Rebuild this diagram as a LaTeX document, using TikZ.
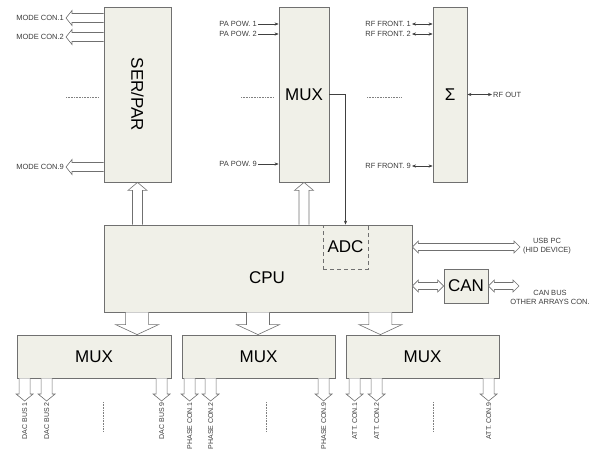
\documentclass[tikz,border=0pt]{standalone}
\usepackage{fontspec}
\setmainfont{Liberation Sans}
\usetikzlibrary{arrows.meta,positioning,calc}
\definecolor{boxfill}{RGB}{240,240,232}
\definecolor{edge}{RGB}{112,112,112}
\definecolor{labgray}{RGB}{60,60,60}
\tikzset{
  blk/.style={draw=edge, fill=boxfill, line width=0.8pt, inner sep=0pt, font=\fontsize{17}{17}\selectfont},
  adcbox/.style={draw=edge, dash pattern=on 4pt off 3pt, line width=0.8pt, inner sep=0pt, font=\fontsize{17}{17}\selectfont},
  lbl/.style={font=\fontsize{7.5}{9}\selectfont, text=labgray, inner sep=1pt},
  wire/.style={draw=black!75, line width=0.5pt, -{Stealth[length=4pt,width=3.2pt]}},
  wire2/.style={wire, {Stealth[length=4pt,width=3.2pt]}-{Stealth[length=4pt,width=3.2pt]}},
  % hollow block arrow: half shaft / half head / head length
  hollow/.style args={#1/#2/#3}{draw=edge, fill=white, line width=0.6pt, line join=miter, to path={
    ($(\tikztotarget)!#3!(\tikztostart)$) coordinate (hb)
    ($(\tikztostart)!#1!90:(\tikztotarget)$)
    -- ($(hb)!#1!-90:(\tikztostart)$) -- ($(hb)!#2!-90:(\tikztostart)$)
    -- (\tikztotarget)
    -- ($(hb)!#2!90:(\tikztostart)$) -- ($(hb)!#1!90:(\tikztostart)$)
    -- ($(\tikztostart)!#1!-90:(\tikztotarget)$)}},
  hollow2/.style args={#1/#2/#3}{draw=edge, fill=white, line width=0.6pt, line join=miter, to path={
    ($(\tikztostart)!#3!(\tikztotarget)$) coordinate (ha)
    ($(\tikztotarget)!#3!(\tikztostart)$) coordinate (hb)
    (\tikztostart) -- ($(ha)!#2!90:(\tikztotarget)$) -- ($(ha)!#1!90:(\tikztotarget)$)
    -- ($(hb)!#1!-90:(\tikztostart)$) -- ($(hb)!#2!-90:(\tikztostart)$)
    -- (\tikztotarget)
    -- ($(hb)!#2!90:(\tikztostart)$) -- ($(hb)!#1!90:(\tikztostart)$)
    -- ($(ha)!#1!-90:(\tikztotarget)$) -- ($(ha)!#2!-90:(\tikztotarget)$) -- cycle}},
  bus/.style={hollow=4.5pt/7.5pt/6pt},
  upbus/.style={hollow=5pt/9.5pt/8pt},
  outbus/.style={hollow=5.5pt/8.5pt/7pt},
  bigbus/.style={hollow=11.5pt/21.5pt/10pt},
  link/.style={hollow2=3.5pt/6pt/6pt},
  dots/.style={draw=gray, line width=0.5pt, dash pattern=on 0.6pt off 1pt},
}
\begin{document}
\begin{tikzpicture}[x=1pt, y=-1pt]
\useasboundingbox (0,0) rectangle (591,450);
% upper row
\node[blk, minimum width=67pt, minimum height=175pt] (serpar) at (137.5,94.5) {};
\node[rotate=-90, font=\fontsize{17}{17}\selectfont] (serpartxt) at (serpar) {SER/PAR};
\node[blk, minimum width=50pt, minimum height=175pt] (muxa) at (304,94.5) {MUX};
\node[blk, minimum width=34pt, minimum height=175pt] (sigma) at (450,94.5) {Σ};
% cpu and friends
\node[blk, minimum width=308pt, minimum height=87pt] (cpu) at (258,268.5) {};
\node[font=\fontsize{17}{17}\selectfont] (cputxt) at (267,278) {CPU};
\node[adcbox, minimum width=45pt, minimum height=44pt] (adc) at (345.5,247) {ADC};
\node[blk, minimum width=44pt, minimum height=34pt] (can) at (466,286) {CAN};
% lower row
\node[blk, minimum width=154pt, minimum height=43pt] (muxdac) at (94,356.5) {MUX};
\node[blk, minimum width=153pt, minimum height=43pt] (muxphase) at (258.5,356.5) {MUX};
\node[blk, minimum width=153pt, minimum height=43pt] (muxatt) at (422.5,356.5) {MUX};

% buses from cpu
\draw[upbus] (cpu.north -| serpar) to (serpar.south);
\draw[upbus] (cpu.north -| muxa) to (muxa.south);
\draw[wire] (muxa.east) -| (adc.north);
\coordinate (b1) at ([xshift=33.5pt]cpu.south west);
\coordinate (b2) at (cpu.south);
\coordinate (b3) at ([xshift=-32pt]cpu.south east);
\draw[bigbus] (b1) to (b1 |- muxdac.north);
\draw[bigbus] (b2) to (b2 |- muxphase.north);
\draw[bigbus] (b3) to (b3 |- muxatt.north);

% mode lines
\foreach \y/\txt [count=\n] in {18/MODE CON.1, 37/MODE CON.2, 167/MODE CON.9}{
  \node[lbl, anchor=east, inner sep=2pt] (mode\n) at (66,\y) {\txt};
  \draw[bus] (serpar.west |- mode\n) to (mode\n.east);
}
% pa power
\foreach \y/\txt [count=\n] in {24/PA POW. 1, 34/PA POW. 2, 164/PA POW. 9}{
  \node[lbl, anchor=east] (pow\n) at (258,\y) {\txt};
  \draw[wire] (pow\n.east) -- (pow\n -| muxa.west);
}
% rf front ends
\foreach \y/\txt [count=\n] in {24/RF FRONT. 1, 34/RF FRONT. 2, 166/RF FRONT. 9}{
  \node[lbl, anchor=east] (rff\n) at (412,\y) {\txt};
  \draw[wire2] (rff\n.east) -- (rff\n -| sigma.west);
}
\node[lbl, anchor=west] (rfout) at (492,95) {RF OUT};
\draw[wire2] (sigma.east) -- (sigma.east -| rfout.west);

% usb + can
\node[lbl, align=center] (usb) at (547,246.5) {USB PC\\(HID DEVICE)};
\coordinate (usbend) at (520,247);
\draw[link] (cpu.east |- usbend) to (usbend);
\draw[link] (cpu.east |- can) to (can.west);
\node[lbl, align=center] (canbus) at (550,297.5) {CAN BUS\\OTHER ARRAYS CON.};
\coordinate (canend) at (519,286);
\draw[link] (can.east) to (canend);

% outputs of the lower muxes
\foreach \bx/\dx/\txt [count=\n] in {muxdac/8/DAC BUS 1, muxdac/30/DAC BUS 2, muxdac/145/DAC BUS 9,
    muxphase/8/PHASE CON.1, muxphase/29/PHASE CON.2, muxphase/142/PHASE CON.9,
    muxatt/9/ATT. CON.1, muxatt/31/ATT. CON.2, muxatt/143/ATT. CON.9}{
  \coordinate (top\n) at ([xshift=\dx pt]\bx.south west);
  \node[lbl, font=\fontsize{7}{8}\selectfont, rotate=90, anchor=east] (out\n) at (top\n |- 0,401) {\txt};
  \draw[outbus] (top\n) to (out\n.east);
}

% dotted gaps
\draw[dots] (66,97) -- (99,97);
\draw[dots] (241,97) -- (274,97);
\draw[dots] (367,97) -- (402,97);
\draw[dots] (103,402) -- (103,432);
\draw[dots] (266,402) -- (266,432);
\draw[dots] (433,402) -- (433,432);
\end{tikzpicture}
\end{document}
